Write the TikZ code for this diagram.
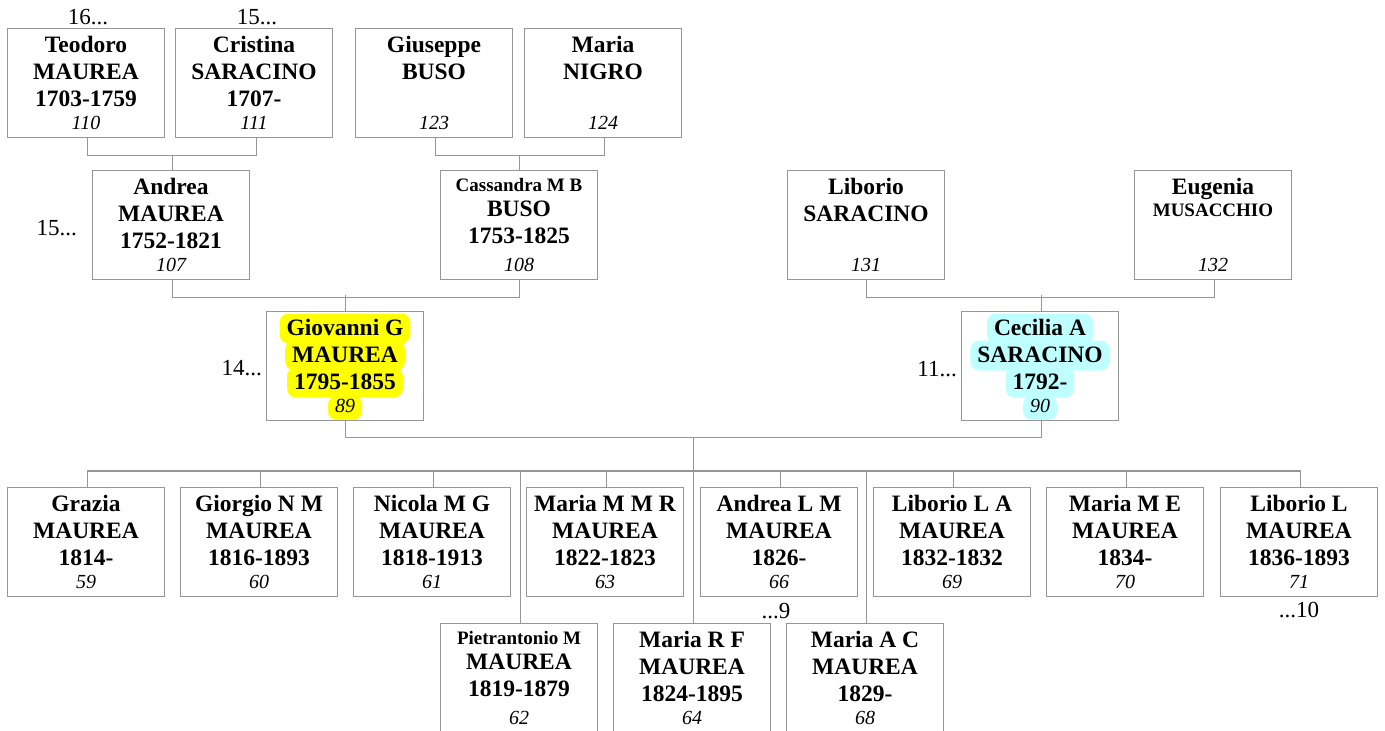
\documentclass[tikz,border=0pt]{standalone}
\usepackage{fontspec}
\setmainfont{Liberation Serif}
\definecolor{lg}{RGB}{150,150,150}
\definecolor{hlY}{RGB}{255,255,0}
\definecolor{hlC}{RGB}{190,255,255}
\tikzset{
  pbox/.style={draw=lg, line width=1.2pt, minimum width=157pt, minimum height=109pt, inner sep=0pt},
  conn/.style={draw=lg, line width=1.2pt},
  nm/.style={font=\bfseries\fontsize{23.5}{27}\selectfont, inner sep=0pt, anchor=base},
  sm/.style={font=\bfseries\fontsize{19}{22}\selectfont, inner sep=0pt, anchor=base},
  num/.style={font=\itshape\fontsize{20}{24}\selectfont, inner sep=0pt, anchor=base},
  gen/.style={font=\fontsize{23}{27}\selectfont, inner sep=0pt},
  hlbox/.style={inner xsep=7pt, inner ysep=2pt, text height=20pt, text depth=6pt, rounded corners=9pt},
  hlnum/.style={inner xsep=7pt, inner ysep=2pt, text height=13pt, text depth=6pt, rounded corners=8pt},
}
% standard person: id, cx, top, line1, line2, line3, number
\newcommand\pp[7]{%
  \node[pbox] (#1) at (#2,#3+54.5) {};
  \node[nm] (#1-1) at (#2,#3+24) {#4};
  \node[nm] (#1-2) at (#2,#3+51) {#5};
  \node[nm] (#1-3) at (#2,#3+78) {#6};
  \node[num] (#1-4) at (#2,#3+101) {#7};}
% small first line
\newcommand\ps[7]{%
  \node[pbox] (#1) at (#2,#3+54.5) {};
  \node[sm] (#1-1) at (#2,#3+21) {#4};
  \node[nm] (#1-2) at (#2,#3+46) {#5};
  \node[nm] (#1-3) at (#2,#3+73) {#6};
  \node[num] (#1-4) at (#2,#3+101) {#7};}
% no dates
\newcommand\pn[6]{%
  \node[pbox] (#1) at (#2,#3+54.5) {};
  \node[nm] (#1-1) at (#2,#3+24) {#4};
  \node[nm] (#1-2) at (#2,#3+51) {#5};
  \node[num] (#1-4) at (#2,#3+101) {#6};}
\begin{document}
\begin{tikzpicture}[x=1pt,y=-1pt]
\useasboundingbox (0,0) rectangle (1385,731);
\clip (0,0) rectangle (1385,731);
\fill[white] (0,0) rectangle (1385,731);

% highlights
\node[nm,hlbox,fill=hlY] (gh1) at (345,311.5+24) {\phantom{Giovanni G}};
\node[nm,hlbox,fill=hlY] (gh2) at (345,311.5+51) {\phantom{MAUREA}};
\node[nm,hlbox,fill=hlY] (gh3) at (345,311.5+78) {\phantom{1795-1855}};
\node[num,hlnum,fill=hlY] (gh4) at (345,311.5+100) {\phantom{89}};
\node[nm,hlbox,fill=hlC] (ch1) at (1040,311.5+24) {\phantom{Cecilia A}};
\node[nm,hlbox,fill=hlC] (ch2) at (1040,311.5+51) {\phantom{SARACINO}};
\node[nm,hlbox,fill=hlC] (ch3) at (1040,311.5+78) {\phantom{1792-}};
\node[num,hlnum,fill=hlC] (ch4) at (1040,311.5+100) {\phantom{90}};

% generation 1
\pp{teo}{86}{28.5}{Teodoro}{MAUREA}{1703-1759}{110}
\pp{cri}{254}{28.5}{Cristina}{SARACINO}{1707-}{111}
\pn{giu}{434}{28.5}{Giuseppe}{BUSO}{123}
\pn{nig}{603}{28.5}{Maria}{NIGRO}{124}
% generation 2
\pp{and}{171}{170.5}{Andrea}{MAUREA}{1752-1821}{107}
\ps{cas}{519}{170.5}{Cassandra M B}{BUSO}{1753-1825}{108}
\pn{lib}{866}{170.5}{Liborio}{SARACINO}{131}
\node[pbox] (eug) at (1213,170.5+54.5) {};
\node[nm] (eug-1) at (1213,170.5+24) {Eugenia};
\node[sm] (eug-2) at (1213,170.5+46) {MUSACCHIO};
\node[num] (eug-4) at (1213,170.5+101) {132};
% generation 3
\pp{gio}{345}{311.5}{Giovanni G}{MAUREA}{1795-1855}{89}
\pp{cec}{1040}{311.5}{Cecilia A}{SARACINO}{1792-}{90}
% children row 1
\pp{c1}{86}{487.5}{Grazia}{MAUREA}{1814-}{59}
\pp{c2}{259}{487.5}{Giorgio N M}{MAUREA}{1816-1893}{60}
\pp{c3}{432}{487.5}{Nicola M G}{MAUREA}{1818-1913}{61}
\pp{c4}{605}{487.5}{Maria M M R}{MAUREA}{1822-1823}{63}
\pp{c5}{779}{487.5}{Andrea L M}{MAUREA}{1826-}{66}
\pp{c6}{952}{487.5}{Liborio L A}{MAUREA}{1832-1832}{69}
\pp{c7}{1125}{487.5}{Maria M E}{MAUREA}{1834-}{70}
\pp{c8}{1299}{487.5}{Liborio L}{MAUREA}{1836-1893}{71}
% children row 2
\ps{d1}{519}{623.5}{Pietrantonio M}{MAUREA}{1819-1879}{62}
\pp{d2}{692}{623.5}{Maria R F}{MAUREA}{1824-1895}{64}
\pp{d3}{865}{623.5}{Maria A C}{MAUREA}{1829-}{68}

% generation labels
\node[gen,anchor=base] (l16) at (88,24) {16...};
\node[gen,anchor=base] (l15a) at (257,24) {15...};
\node[gen,anchor=base east] (l15b) at (77,235) {15...};
\node[gen,anchor=base east] (l14) at (262,375) {14...};
\node[gen,anchor=base east] (l11) at (957,376) {11...};
\node[gen,anchor=base] (l9) at (776,618) {...9};
\node[gen,anchor=base] (l10) at (1299,617) {...10};

% connectors
\draw[conn] ([xshift=1.5pt]teo.south) -- ++(0,17) -| ([xshift=2.5pt]cri.south);
\draw[conn] ([xshift=1.5pt]and.north) -- ++(0,-15);
\draw[conn] ([xshift=1.5pt]giu.south) -- ++(0,17) -| ([xshift=1.5pt]nig.south);
\draw[conn] ([xshift=0.5pt]cas.north) -- ++(0,-15);
\draw[conn] ([xshift=1.5pt]and.south) -- ++(0,17) -| ([xshift=0.5pt]cas.south);
\draw[conn] ([xshift=0.5pt]gio.north) -- ++(0,-16);
\draw[conn] ([xshift=0.5pt]lib.south) -- ++(0,17) -| ([xshift=1.5pt]eug.south);
\draw[conn] ([xshift=1.5pt]cec.north) -- ++(0,-16);
\draw[conn] ([xshift=0.5pt]gio.south) -- ++(0,16) -| ([xshift=1.5pt]cec.south);
\coordinate (fam) at (693.5,436.5);
\coordinate (kids) at (693.5,471.5);
\draw[conn] (fam) -- (kids);
\draw[conn] ([xshift=1.5pt]c1.north) -- ++(0,-16) -| ([xshift=1.5pt]c8.north);
\foreach \c in {c2,c3,c4,c5,c6,c7}{\draw[conn] ([xshift=1.5pt]\c.north) -- ++(0,-16);}
\foreach \c in {d1,d2,d3}{\draw[conn] ([xshift=1.5pt]\c.north) -- ++(0,-152);}
\end{tikzpicture}
\end{document}
